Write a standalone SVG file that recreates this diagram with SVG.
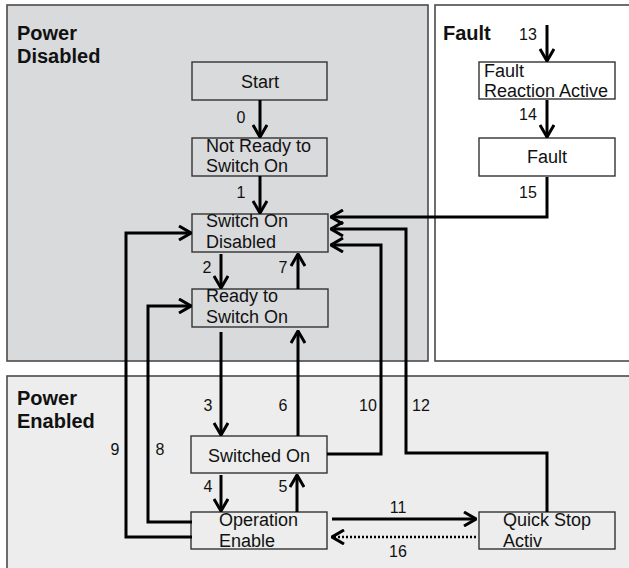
<svg xmlns="http://www.w3.org/2000/svg" width="629" height="568" viewBox="0 0 629 568">
<defs>
<style>
.region{stroke:#4a4a4a;stroke-width:1.6}
.box{fill:none;stroke:#333;stroke-width:1.4}
.wbox{fill:#fff;stroke:#333;stroke-width:1.4}
.t{font-family:"Liberation Sans",Arial,sans-serif;font-size:18px;fill:#111}
.title{font-family:"Liberation Sans",Arial,sans-serif;font-size:20px;font-weight:bold;fill:#111}
.n{font-family:"Liberation Sans",Arial,sans-serif;font-size:16px;fill:#111;text-anchor:middle}
.c{fill:none;stroke:#000;stroke-width:3;marker-end:url(#ah)}
.d{fill:none;stroke:#000;stroke-width:2.6;stroke-dasharray:2 2;marker-end:url(#ah)}
.mid{text-anchor:middle}
</style>
<marker id="ah" markerUnits="userSpaceOnUse" viewBox="0 0 14 16" markerWidth="14" markerHeight="16" refX="13" refY="8" orient="auto">
<path d="M1,1 L13,8 L1,15" fill="none" stroke="#000" stroke-width="3" stroke-dasharray="none"/>
</marker>
</defs>

<g id="region-power-disabled">
<rect class="region" x="7" y="5" width="421" height="356" fill="#d9dadc"/>
<text class="title" x="17" y="40">Power</text>
<text class="title" x="17" y="63">Disabled</text>
</g>
<g id="region-fault">
<rect class="region" x="435" y="5" width="200" height="356" fill="#fff"/>
<text class="title" x="443" y="40">Fault</text>
</g>
<g id="region-power-enabled">
<rect class="region" x="7" y="376" width="630" height="200" fill="#ecedec"/>
<text class="title" x="17" y="405">Power</text>
<text class="title" x="17" y="428">Enabled</text>
</g>

<g id="node-start">
<rect class="box" x="192" y="62" width="135" height="38"/>
<text class="t mid" x="260" y="88">Start</text>
</g>
<g id="node-not-ready">
<rect class="box" x="192" y="138" width="135" height="38"/>
<text class="t" x="206" y="152">Not Ready to</text>
<text class="t" x="206" y="172">Switch On</text>
</g>
<g id="node-switch-on-disabled">
<rect class="box" x="192" y="214" width="136" height="38"/>
<text class="t" x="206" y="227">Switch On</text>
<text class="t" x="206" y="248">Disabled</text>
</g>
<g id="node-ready">
<rect class="box" x="192" y="289" width="136" height="38"/>
<text class="t" x="206" y="302">Ready to</text>
<text class="t" x="206" y="323">Switch On</text>
</g>
<g id="node-switched-on">
<rect class="box" x="191" y="436" width="136" height="37"/>
<text class="t mid" x="259" y="462">Switched On</text>
</g>
<g id="node-operation-enable">
<rect class="box" x="191" y="512" width="136" height="37"/>
<text class="t" x="219" y="526">Operation</text>
<text class="t" x="219" y="547">Enable</text>
</g>
<g id="node-quick-stop">
<rect class="box" x="479" y="512" width="136" height="37"/>
<text class="t" x="503" y="526">Quick Stop</text>
<text class="t" x="503" y="547">Activ</text>
</g>
<g id="node-fault-reaction">
<rect class="wbox" x="479" y="62" width="136" height="37"/>
<text class="t" x="484" y="77">Fault</text>
<text class="t" x="484" y="97">Reaction Active</text>
</g>
<g id="node-fault">
<rect class="wbox" x="479" y="138" width="136" height="38"/>
<text class="t mid" x="547" y="163">Fault</text>
</g>

<g id="connectors">
<path class="c" d="M260,100 L260,137"/>
<path class="c" d="M260,176 L260,213"/>
<path class="c" d="M221,254 L221,288"/>
<path class="c" d="M298,289 L298,254"/>
<path class="c" d="M221,332 L221,435"/>
<path class="c" d="M298,436 L298,331"/>
<path class="c" d="M221,475 L221,511"/>
<path class="c" d="M297,512 L297,475"/>
<path class="c" d="M192,522 L148,522 L148,306 L191,306"/>
<path class="c" d="M192,537 L126,537 L126,233 L191,233"/>
<path class="c" d="M327,454 L381,454 L381,245 L331,245"/>
<path class="c" d="M547,512 L547,453 L406,453 L406,229 L331,229"/>
<path class="c" d="M547,177 L547,217 L331,217"/>
<path class="c" d="M547,25 L547,61"/>
<path class="c" d="M547,100 L547,137"/>
<path class="c" d="M332,519 L476,519"/>
<path class="d" d="M476,537 L332,537"/>
<text class="n" x="241" y="123">0</text>
<text class="n" x="241" y="198">1</text>
<text class="n" x="207" y="273">2</text>
<text class="n" x="283" y="273">7</text>
<text class="n" x="208" y="411">3</text>
<text class="n" x="283" y="411">6</text>
<text class="n" x="115" y="455">9</text>
<text class="n" x="160" y="455">8</text>
<text class="n" x="368" y="411">10</text>
<text class="n" x="421" y="411">12</text>
<text class="n" x="208" y="492">4</text>
<text class="n" x="283" y="492">5</text>
<text class="n" x="398" y="513">11</text>
<text class="n" x="398" y="557">16</text>
<text class="n" x="528" y="40">13</text>
<text class="n" x="528" y="120">14</text>
<text class="n" x="528" y="198">15</text>
</g>
</svg>
